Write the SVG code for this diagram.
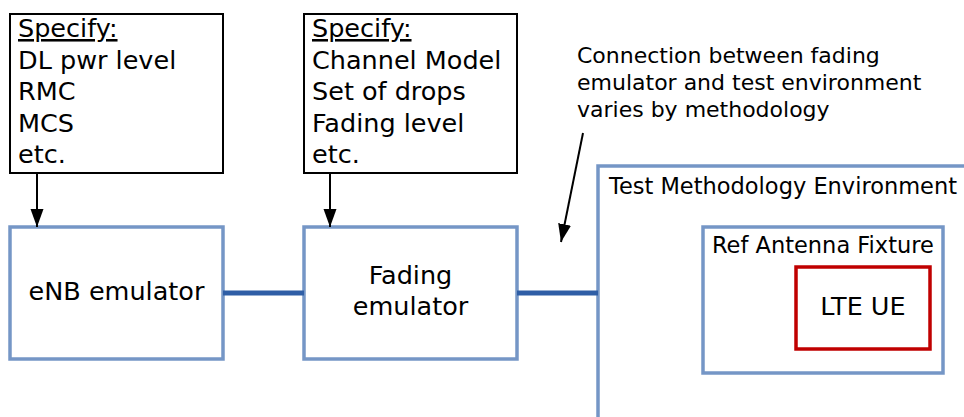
<svg xmlns="http://www.w3.org/2000/svg" width="964" height="417" viewBox="0 0 964 417">
<style>
text{font-family:"DejaVu Sans","Verdana",sans-serif;fill:#000}
.big{font-size:25.5px}
.lbl{font-size:22px}
.lbl2{font-size:22.5px}
.spec{fill:#fff;stroke:#000;stroke-width:2}
.blue{fill:#fff;stroke:#7596c6;stroke-width:3.5}
.red{fill:#fff;stroke:#c00000;stroke-width:3.5}
.thick{stroke:#2f5ea6;stroke-width:5;fill:none}
.arr{stroke:#000;stroke-width:2;fill:none;marker-end:url(#ah)}
</style>
<defs>
<marker id="ah" viewBox="0 0 18 14" refX="18" refY="7" markerWidth="18" markerHeight="14" markerUnits="userSpaceOnUse" orient="auto">
<path d="M0,0.5 L18,7 L0,13.5 Z" fill="#000"/>
</marker>
</defs>
<g id="spec1">
<rect class="spec" x="10" y="14" width="213" height="159"/>
<text class="big" x="18" y="37" text-decoration="underline">Specify:</text>
<text class="big" x="18" y="68.5">DL pwr level</text>
<text class="big" x="18" y="100">RMC</text>
<text class="big" x="18" y="131.5">MCS</text>
<text class="big" x="18" y="163">etc.</text>
</g>
<g id="spec2">
<rect class="spec" x="304" y="14" width="213" height="159"/>
<text class="big" x="312" y="37" text-decoration="underline">Specify:</text>
<text class="big" x="312" y="68.5">Channel Model</text>
<text class="big" x="312" y="100">Set of drops</text>
<text class="big" x="312" y="131.5">Fading level</text>
<text class="big" x="312" y="163">etc.</text>
</g>
<g id="note">
<text class="lbl" x="577" y="63">Connection between fading</text>
<text class="lbl" x="577" y="90">emulator and test environment</text>
<text class="lbl" x="577" y="117">varies by methodology</text>
</g>
<g id="enb">
<rect class="blue" x="10" y="227" width="213" height="132"/>
<text class="big" x="116.5" y="300" text-anchor="middle">eNB emulator</text>
</g>
<g id="fading">
<rect class="blue" x="304" y="227" width="213" height="132"/>
<text class="big" x="410.5" y="284" text-anchor="middle">Fading</text>
<text class="big" x="410.5" y="315" text-anchor="middle">emulator</text>
</g>
<g id="testenv">
<path d="M598,417 V166 H966" fill="none" stroke="#7596c6" stroke-width="3.5"/>
<text class="lbl2" x="609" y="194">Test Methodology Environment</text>
</g>
<g id="fixture">
<rect class="blue" x="703" y="227" width="240" height="146"/>
<text class="lbl2" x="712" y="253">Ref Antenna Fixture</text>
</g>
<g id="ue">
<rect class="red" x="796" y="267" width="134" height="82"/>
<text class="big" x="863" y="315" text-anchor="middle">LTE UE</text>
</g>
<g id="connectors">
<line class="thick" x1="223" y1="293" x2="304" y2="293"/>
<line class="thick" x1="517" y1="293" x2="598" y2="293"/>
<line class="arr" x1="37" y1="173" x2="37" y2="227"/>
<line class="arr" x1="330" y1="173" x2="330" y2="227"/>
<line class="arr" x1="583" y1="133" x2="561" y2="242"/>
</g>
</svg>
